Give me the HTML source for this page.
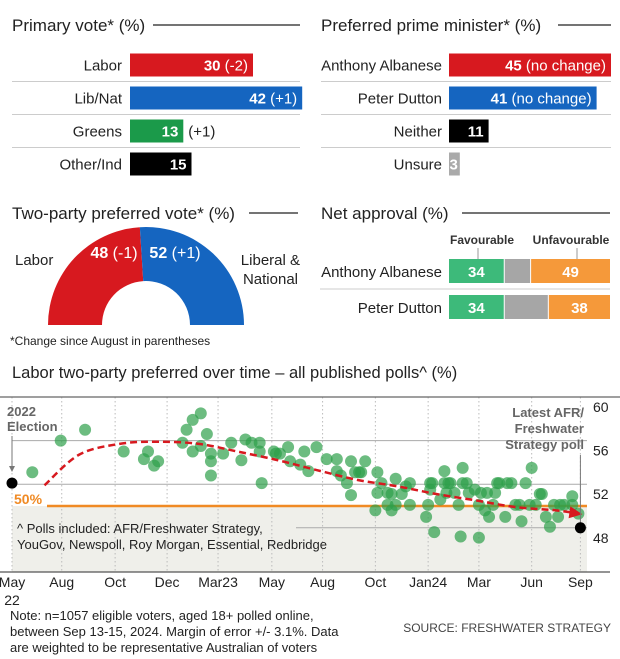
<!DOCTYPE html>
<html><head><meta charset="utf-8"><style>
body{margin:0;background:#fff;}
svg{display:block;font-family:"Liberation Sans",sans-serif;}
</style></head><body>
<svg id="root" width="620" height="659" viewBox="0 0 620 659">
<!-- Primary vote -->
<g>
<text x="12" y="31" font-size="17" fill="#222">Primary vote* (%)</text>
<line x1="153" y1="25" x2="300" y2="25" stroke="#222" stroke-width="1.2"/>
<g id="pv"></g>
</g>
<g>
<text x="321" y="31" font-size="17" fill="#222">Preferred prime minister* (%)</text>
<line x1="558" y1="25" x2="611" y2="25" stroke="#222" stroke-width="1.2"/>
<g id="ppm"></g>
</g>
<!-- Two party -->
<g>
<text x="12" y="219" font-size="17" fill="#222">Two-party preferred vote* (%)</text>
<line x1="249" y1="213" x2="298" y2="213" stroke="#222" stroke-width="1.2"/>
<g id="tpp"></g>
<text x="15" y="265" font-size="15" fill="#222">Labor</text>
<text x="300" y="265" font-size="15" fill="#222" text-anchor="end">Liberal &amp;</text>
<text x="298" y="284" font-size="15" fill="#222" text-anchor="end">National</text>
</g>
<g>
<text x="321" y="219" font-size="17" fill="#222">Net approval (%)</text>
<line x1="462" y1="213" x2="610" y2="213" stroke="#222" stroke-width="1.2"/>
<text x="482" y="244" font-size="12" font-weight="bold" fill="#333" text-anchor="middle">Favourable</text>
<text x="571" y="244" font-size="12" font-weight="bold" fill="#333" text-anchor="middle">Unfavourable</text>
<line x1="478" y1="248" x2="478" y2="259" stroke="#999"/>
<line x1="577" y1="248" x2="577" y2="259" stroke="#999"/>
<line x1="320" y1="289" x2="610" y2="289" stroke="#ccc"/>
<g id="na"></g>
</g>
<text x="10" y="345" font-size="12" fill="#222">*Change since August in parentheses</text>
<!-- Time chart -->
<text x="12" y="378" font-size="16.5" fill="#222">Labor two-party preferred over time – all published polls^ (%)</text>
<g id="tc"></g>
<text x="10" y="620" font-size="13" fill="#222">Note: n=1057 eligible voters, aged 18+ polled online,</text>
<text x="10" y="636" font-size="13" fill="#222">between Sep 13-15, 2024. Margin of error +/- 3.1%. Data</text>
<text x="10" y="652" font-size="13" fill="#222">are weighted to be representative Australian of voters</text>
<text x="611" y="632" font-size="12" fill="#444" text-anchor="end">SOURCE: FRESHWATER STRATEGY</text>
</svg>
<script>
const NS="http://www.w3.org/2000/svg";
function mk(p,tag,a){const e=document.createElementNS(NS,tag);for(const k in a)e.setAttribute(k,a[k]);p.appendChild(e);return e;}

// Primary vote data
const pvParties=["Labor","Lib/Nat","Greens","Other/Ind"];
const pvValues=[30,42,13,15];
const pvChanges=["(-2)","(+1)","(+1)",""];
const pvColors=["#d7191f","#1565c0","#1b9a4a","#000"];
// Preferred PM data
const ppmNames=["Anthony Albanese","Peter Dutton","Neither","Unsure"];
const ppmValues=[45,41,11,3];
const ppmChanges=["(no change)","(no change)","",""];
const ppmColors=["#d7191f","#1565c0","#000","#aaa"];
// Two-party
const tppValues=[48,52];
const tppChanges=["(-1)","(+1)"];
// Net approval
const naNames=["Anthony Albanese","Peter Dutton"];
const naFav=[34,34];
const naUnfav=[49,38];
// Time series
const tickLabels=["May","Aug","Oct","Dec","Mar23","May","Aug","Oct","Jan24","Mar","Jun","Sep"];
const tickTimes=[0,2.45,5.08,7.64,10.15,12.8,15.3,17.9,20.5,23,25.6,28];
const yTicks=[60,56,52,48];
const pollTimes=[1.0,2.4,3.6,5.5,6.5,6.7,7.0,7.2,8.4,8.6,8.9,9.3,8.9,9.3,9.6,9.8,9.8,9.8,10.4,10.8,11.3,11.5,11.8,12.2,12.2,12.3,12.9,13.0,13.2,13.6,13.7,14.2,14.4,14.6,15.0,15.5,16.0,16.0,16.2,16.5,16.7,16.7,16.9,17.1,17.2,17.4,17.9,18.0,18.0,18.2,18.5,18.5,18.7,18.7,18.9,18.9,19.2,19.4,19.6,19.6,20.4,20.5,20.6,20.6,20.7,20.8,21.1,21.3,21.3,21.4,21.5,21.6,21.8,22.0,22.1,22.2,22.2,22.4,22.5,22.8,23.0,23.0,23.1,23.3,23.4,23.5,23.7,23.8,23.9,24.0,24.3,24.4,24.6,24.8,25.0,25.1,25.3,25.5,25.6,25.8,26.0,26.1,26.3,26.5,26.7,26.9,27.0,27.2,27.6,27.6,27.9];
const pollValues=[53.1,56.0,57.0,55.0,54.3,55.0,53.7,54.1,55.8,57.0,57.9,58.5,55.0,55.5,56.6,54.8,54.1,52.8,54.8,55.8,54.2,56.1,55.8,55.8,55.0,52.1,55.0,54.8,54.8,55.4,54.1,53.8,55.0,53.2,55.4,54.3,54.3,53.2,52.8,52.1,51.0,54.1,53.1,53.1,53.1,54.1,49.6,53.1,51.2,52.1,51.2,50.1,51.1,49.6,50.1,52.5,51.1,51.8,52.1,50.1,49.0,50.1,51.5,52.1,52.1,47.6,50.6,53.2,52.1,51.2,52.1,52.1,51.2,50.1,47.2,52.1,53.5,52.1,51.2,51.5,50.1,47.1,51.2,49.6,51.2,49.0,50.1,51.2,52.1,52.1,49.0,52.1,52.1,50.1,50.1,48.6,52.1,50.1,53.5,50.1,51.1,51.1,49.0,48.1,50.1,49.0,50.1,50.1,50.9,50.1,49.3];
const trendTimes=[1.6,3.3,5.3,7.2,9.2,11.1,13.1,15.0,17.0,19.0,20.9,22.9,24.8,26.8,27.9];
const trendValues=[51.9,54.7,55.7,55.9,55.7,55.0,54.2,53.3,52.4,51.8,51.1,50.5,49.9,49.6,49.3];
const electionTime=0, electionValue=52.1;
const latestTime=28, latestValue=48;
const threshold=50;

// Primary vote bars
const pv=document.getElementById('pv');
const pvX=130, pvS=4.1, rowY=[65,98,131,164];
pvParties.forEach((p,i)=>{
  const y=rowY[i];
  const t=mk(pv,'text',{x:122,y:y+5.5,'font-size':15,fill:'#222','text-anchor':'end'});t.textContent=p;
  
  
  const w=pvValues[i]*pvS;
  const r=mk(pv,'rect',{x:pvX,y:y-11.5,width:w,height:23,fill:pvColors[i]});
  
  
  const inside=pvValues[i]>=25;
  const lab=mk(pv,'text',{x:inside?pvX+w-5:pvX+w-5,y:y+5.5,'font-size':15,fill:'#fff','text-anchor':'end'});
  
  
  const b=mk(lab,'tspan',{'font-weight':'bold'});b.textContent=pvValues[i];
  if(pvChanges[i]){
    if(inside){const c=mk(lab,'tspan',{});c.textContent=' '+pvChanges[i];}
    else{const c=mk(pv,'text',{x:pvX+w+5,y:y+5.5,'font-size':15,fill:'#222'});c.textContent=pvChanges[i];
      
      }
  }
  if(i<3) mk(pv,'line',{x1:12,x2:300,y1:y+16.5,y2:y+16.5,stroke:'#ccc'});
});
// PPM bars
const ppm=document.getElementById('ppm');
const ppX=449, ppS=3.6;
ppmNames.forEach((p,i)=>{
  const y=rowY[i];
  const t=mk(ppm,'text',{x:442,y:y+5.5,'font-size':15,fill:'#222','text-anchor':'end'});t.textContent=p;
  
  
  const w=ppmValues[i]*ppS;
  const r=mk(ppm,'rect',{x:ppX,y:y-11.5,width:w,height:23,fill:ppmColors[i]});
  
  
  const lab=mk(ppm,'text',{x:ppX+w-(ppmValues[i]<5?2:5),y:y+5.5,'font-size':15,fill:'#fff','text-anchor':'end'});
  
  
  const b=mk(lab,'tspan',{'font-weight':'bold'});b.textContent=ppmValues[i];
  if(ppmChanges[i]){const c=mk(lab,'tspan',{});c.textContent=' '+ppmChanges[i];}
  if(i<3) mk(ppm,'line',{x1:321,x2:611,y1:y+16.5,y2:y+16.5,stroke:'#ccc'});
});
// Two-party semicircle
const tpp=document.getElementById('tpp');
const cx=146,cy=325,R=98,r0=44;
const tot=tppValues[0]+tppValues[1];
const split=Math.PI*(1-tppValues[0]/tot); // angle from +x axis
function arc(a1,a2,col,name){
  const p=(a,rr)=>[cx+rr*Math.cos(a),cy-rr*Math.sin(a)];
  const [x1,y1]=p(a1,R),[x2,y2]=p(a2,R),[x3,y3]=p(a2,r0),[x4,y4]=p(a1,r0);
  const e=mk(tpp,'path',{d:`M${x1},${y1} A${R},${R} 0 0 1 ${x2},${y2} L${x3},${y3} A${r0},${r0} 0 0 0 ${x4},${y4} Z`,fill:col});
  
  
}
arc(Math.PI,split,'#d7191f','labor-tpp-arc');
arc(split,0,'#1565c0','coalition-tpp-arc');
[[tppValues[0],tppChanges[0],cx-32],[tppValues[1],tppChanges[1],cx+29]].forEach((d,i)=>{
  const lab=mk(tpp,'text',{x:d[2],y:258,'font-size':16,fill:'#fff','text-anchor':'middle'});
  
  
  const b=mk(lab,'tspan',{'font-weight':'bold'});b.textContent=d[0];
  const c=mk(lab,'tspan',{});c.textContent=' '+d[1];
});
// Net approval
const na=document.getElementById('na');
const naX=449, naW=161, naYs=[259,295];
naNames.forEach((n,i)=>{
  const y=naYs[i], s=naW/100;
  const t=mk(na,'text',{x:442,y:y+18,'font-size':15,fill:'#222','text-anchor':'end'});t.textContent=n;
  
  
  const fw=naFav[i]*s, uw=naUnfav[i]*s, gw=naW-fw-uw;
  const g=mk(na,'rect',{x:naX,y:y,width:fw,height:24,fill:'#3dba7a'});
  
  
  const n2=mk(na,'rect',{x:naX+fw+1,y:y,width:gw-2,height:24,fill:'#a6a6a6'});
  
  
  const u=mk(na,'rect',{x:naX+naW-uw,y:y,width:uw,height:24,fill:'#f5993a'});
  
  
  const a=mk(na,'text',{x:naX+fw/2,y:y+18,'font-size':15,'font-weight':'bold',fill:'#fff','text-anchor':'middle'});a.textContent=naFav[i];
  
  
  const b=mk(na,'text',{x:naX+naW-uw/2,y:y+18,'font-size':15,'font-weight':'bold',fill:'#fff','text-anchor':'middle'});b.textContent=naUnfav[i];
  
  
});
// Time chart
const tc=document.getElementById('tc');
const xT=t=>12+t*20.3;
const yV=v=>397+(60-v)*10.9;
const xR=587;
mk(tc,'rect',{x:12,y:yV(threshold),width:xR-12,height:572-yV(threshold),fill:'#efefea'});
tickTimes.forEach((t,i)=>{
  mk(tc,'line',{x1:xT(t),x2:xT(t),y1:397,y2:572,stroke:'#bbb','stroke-dasharray':'1.5,2.5'});
  const lb=mk(tc,'text',{x:xT(t),y:587,'font-size':14,fill:'#222','text-anchor':'middle'});lb.textContent=tickLabels[i];
  
  
});
const y22=mk(tc,'text',{x:xT(0),y:605,'font-size':14,fill:'#222','text-anchor':'middle'});y22.textContent='22';


yTicks.forEach((v,i)=>{
  const x1=i===0?0:(i===3?296:12);
  mk(tc,'line',{x1:x1,x2:i===0?620:xR,y1:yV(v),y2:yV(v),stroke:i===0?'#666':'#aaa','stroke-width':i===0?1.2:1});
  const lb=mk(tc,'text',{x:593,y:yV(v)+15,'font-size':14,fill:'#222'});lb.textContent=v;
  
  
});
mk(tc,'line',{x1:0,x2:610,y1:572,y2:572,stroke:'#555','stroke-width':1.2});
mk(tc,'line',{x1:47,x2:xR,y1:yV(threshold),y2:yV(threshold),stroke:'#f08a24','stroke-width':2.5});
const fifty=mk(tc,'text',{x:14,y:yV(threshold)-2,'font-size':14,'font-weight':'bold',fill:'#f08a24'});fifty.textContent=threshold+'%';


pollValues.forEach((v,i)=>{
  const c=mk(tc,'circle',{cx:xT(pollTimes[i]),cy:yV(v),r:6,fill:'#2ea04a','fill-opacity':0.7});
  
  
});
// trend (catmull-rom)
const pts=trendTimes.map((t,i)=>[xT(t),yV(trendValues[i])]);
let d=`M${pts[0][0]},${pts[0][1]}`;
for(let i=0;i<pts.length-1;i++){
  const p0=pts[Math.max(0,i-1)],p1=pts[i],p2=pts[i+1],p3=pts[Math.min(pts.length-1,i+2)];
  d+=` C${p1[0]+(p2[0]-p0[0])/6},${p1[1]+(p2[1]-p0[1])/6} ${p2[0]-(p3[0]-p1[0])/6},${p2[1]-(p3[1]-p1[1])/6} ${p2[0]},${p2[1]}`;
}
const tr=mk(tc,'path',{d:d,fill:'none',stroke:'#d7191f','stroke-width':2.5,'stroke-dasharray':'7,4'});


const L=pts[pts.length-1],P=pts[pts.length-2];
const ang=Math.atan2(L[1]-P[1],L[0]-P[0]);
const ah=mk(tc,'path',{d:`M${L[0]+4*Math.cos(ang)},${L[1]+4*Math.sin(ang)} L${L[0]-9*Math.cos(ang)+6*Math.sin(ang)},${L[1]-9*Math.sin(ang)-6*Math.cos(ang)} L${L[0]-9*Math.cos(ang)-6*Math.sin(ang)},${L[1]-9*Math.sin(ang)+6*Math.cos(ang)} Z`,fill:'#d7191f'});


// election marker
mk(tc,'line',{x1:xT(electionTime),x2:xT(electionTime),y1:436,y2:470,stroke:'#777'});
mk(tc,'path',{d:`M${xT(electionTime)-3},466 L${xT(electionTime)+3},466 L${xT(electionTime)},472 Z`,fill:'#777'});
const ed=mk(tc,'circle',{cx:xT(electionTime),cy:yV(electionValue),r:5.5,fill:'#000'});


['2022','Election'].forEach((s,i)=>{const t=mk(tc,'text',{x:7,y:416+i*15,'font-size':13,'font-weight':'bold',fill:'#666'});t.textContent=s;
  
  });
// latest
mk(tc,'line',{x1:xT(latestTime),x2:xT(latestTime),y1:455,y2:yV(latestValue),stroke:'#777'});
const ld=mk(tc,'circle',{cx:xT(latestTime),cy:yV(latestValue),r:5.5,fill:'#000'});


['Latest AFR/','Freshwater','Strategy poll'].forEach((s,i)=>{const t=mk(tc,'text',{x:584,y:417+i*16,'font-size':13,'font-weight':'bold',fill:'#666','text-anchor':'end'});t.textContent=s;
  
  });
['^ Polls included: AFR/Freshwater Strategy,','YouGov, Newspoll, Roy Morgan, Essential, Redbridge'].forEach((s,i)=>{const t=mk(tc,'text',{x:17,y:533+i*16,'font-size':13,fill:'#222'});t.textContent=s;
  
  });
</script>
</body></html>
